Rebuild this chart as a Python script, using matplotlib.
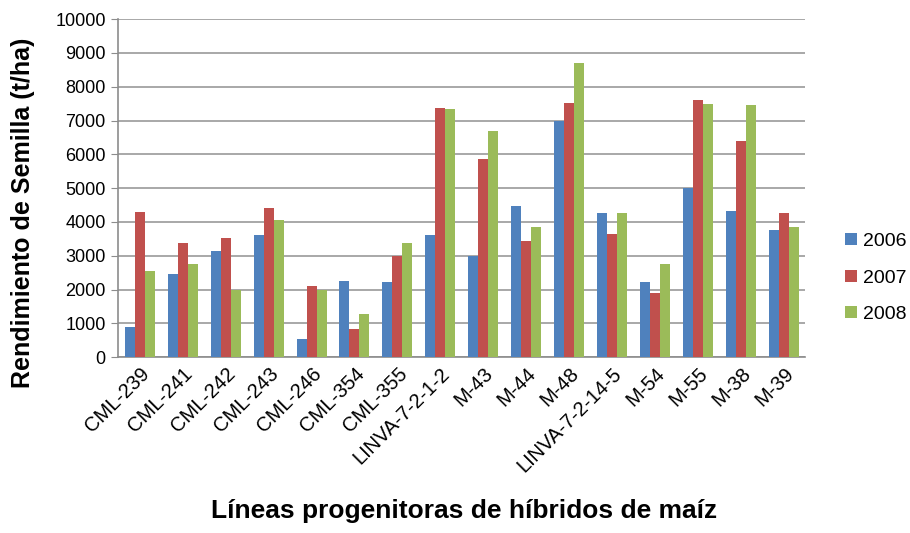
import numpy as np
import matplotlib
matplotlib.use("Agg")
import matplotlib.pyplot as plt

plt.rcParams['font.family'] = ['Liberation Sans', 'DejaVu Sans']

# data
lines = ["CML-239", "CML-241", "CML-242", "CML-243", "CML-246", "CML-354", "CML-355",
         "LINVA-7-2-1-2", "M-43", "M-44", "M-48", "LINVA-7-2-14-5", "M-54", "M-55",
         "M-38", "M-39"]
y2006 = [880, 2470, 3150, 3600, 540, 2240, 2210, 3600, 2990, 4460, 6990, 4250, 2210, 4990, 4320, 3750]
y2007 = [4290, 3370, 3530, 4420, 2090, 840, 2980, 7380, 5870, 3450, 7530, 3640, 1900, 7610, 6390, 4250]
y2008 = [2540, 2770, 1990, 4060, 1990, 1290, 3370, 7340, 6700, 3860, 8700, 4250, 2770, 7490, 7450, 3860]
years = ["2006", "2007", "2008"]
colors = ["#4F81BD", "#C0504D", "#9BBB59"]

fig = plt.figure(figsize=(9.1, 5.33), dpi=100)
ax = fig.add_axes([0.130, 0.330, 0.755, 0.634])

x = np.arange(len(lines))
w = 0.233
for i, (vals, lab, col) in enumerate(zip([y2006, y2007, y2008], years, colors)):
    ax.bar(x + (i - 1) * w, vals, width=w, color=col, label=lab, zorder=3)

ax.set_xlim(-0.5, len(lines) - 0.5)
ax.set_ylim(0, 10000)
ax.set_yticks(np.arange(0, 10001, 1000))
ax.yaxis.grid(True, color="#9a9a9a", linewidth=1.2, zorder=0)
ax.set_axisbelow(True)

for s in ["top", "right"]:
    ax.spines[s].set_visible(False)
for s in ["left", "bottom"]:
    ax.spines[s].set_color("#8c8c8c")
    ax.spines[s].set_linewidth(1.2)

ax.tick_params(axis="y", length=5, color="#8c8c8c", labelsize=13, pad=4)
ax.tick_params(axis="x", length=0, labelsize=14.5, pad=5)
ax.set_xticks(x)
ax.set_xticklabels(lines, rotation=45, ha="right", rotation_mode="anchor")

fig.text(0.025, 0.60, "Rendimiento de Semilla (t/ha)", rotation=90, ha="center", va="center",
         fontsize=18, fontweight="bold")
fig.text(0.51, 0.028, "Líneas progenitoras de híbridos de maíz", ha="center",
         fontsize=19, fontweight="bold")

# legend to the right of the plot
ax.legend(loc="center left", bbox_to_anchor=(1.058, 0.234), frameon=False,
          borderpad=0, borderaxespad=0,
          fontsize=14, handlelength=0.6, handleheight=0.6, labelspacing=1.0,
          handletextpad=0.3)

fig.savefig("out.png", dpi=100)
